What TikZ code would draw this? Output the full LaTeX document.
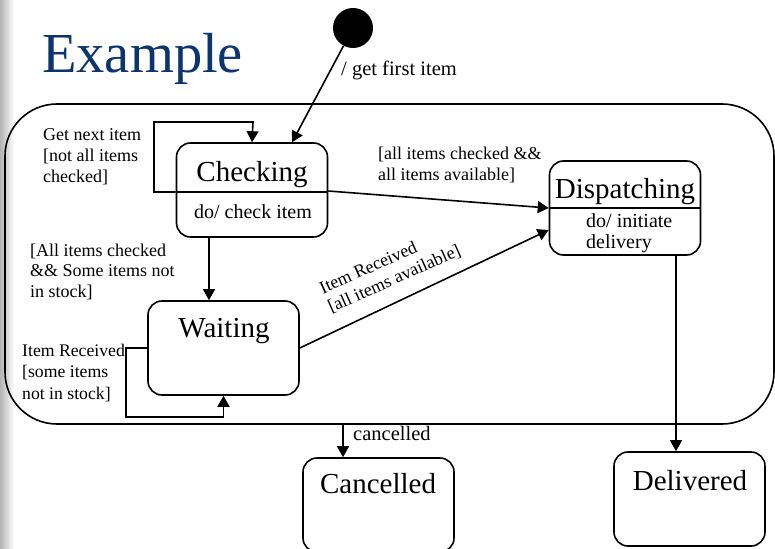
\documentclass[tikz,border=0pt]{standalone}
\usepackage{fontspec}
\setmainfont{Liberation Serif}
\usetikzlibrary{arrows.meta}

\definecolor{titleblue}{RGB}{12,52,110}

\tikzset{
  state/.style={draw, line width=1.6pt, rounded corners=14pt, minimum width=151pt, minimum height=94pt, inner sep=0pt},
  statename/.style={font=\fontsize{29}{32}\selectfont, inner sep=0pt},
  activity/.style={font=\fontsize{20}{21}\selectfont, inner sep=0pt, align=left},
  guard/.style={font=\fontsize{18}{20.5}\selectfont, inner sep=0pt, align=left},
  event/.style={font=\fontsize{20.5}{22}\selectfont, inner sep=0pt},
  trans/.style={line width=1.6pt, -{Triangle[length=11pt,width=12pt]}},
}

\begin{document}
\begin{tikzpicture}[x=1pt, y=-1pt]
  \useasboundingbox (0,0) rectangle (775,548);
  \clip (0,0) rectangle (775,548);

  % edge of the slide
  \shade[left color=gray!60, right color=white] (0,0) rectangle (14,548);

  \node (title) [anchor=base west, inner sep=0pt, text=titleblue, font=\fontsize{56.5}{60}\selectfont] at (42,73) {Example};

  % composite state round the order handling
  \node (comp) [draw, line width=1.6pt, rounded corners=52pt, minimum width=769pt, minimum height=320pt] at (389.5,264) {};

  % states
  \node (init) [circle, fill, minimum size=40pt, inner sep=0pt] at (353,28) {};
  \node (chk) [state] at (252,190) {};
  \node (dsp) [state] at (625,208) {};
  \node (wai) [state] at (223.5,348) {};
  \node (can) [state] at (378.5,505) {};
  \node (dlv) [state] at (689.5,499) {};

  \node (chkname) [statename, anchor=base] at (252,181) {Checking};
  \node (chkdo) [activity, anchor=base] at (253,218) {do/ check item};
  \draw [line width=1.6pt] (chk.west |- 0,192) -- (chk.east |- 0,192);

  \node (dspname) [statename, anchor=base] at (625,198) {Dispatching};
  \node (dspdo) [activity, anchor=base west] at (586,248) {do/ initiate\\delivery};
  \draw [line width=1.6pt] (dsp.west) -- (dsp.east);

  \node (wainame) [statename, anchor=base] at (224,337) {Waiting};
  \node (canname) [statename, anchor=base] at (378,493) {Cancelled};
  \node (dlvname) [statename, anchor=base] at (690,490) {Delivered};

  % transitions
  \draw [trans] (init) -- (chk.50);
  \draw [trans] (chk.west |- 0,192) -- (154,192) |- (253,122) -- (chk.north);
  \draw [trans] (chk.east |- 0,191) -- (dsp.west);
  \draw [trans] (chk.south -| 209,0) -- (wai.north -| 209,0);
  \draw [trans] (wai.west) -| (126,417) -| (wai.south);
  \draw [trans] (wai.east) -- (dsp.west |- 0,230);
  \draw [trans] (comp.south -| 343,0) -- (can.north -| 343,0);
  \draw [trans] (dsp.south -| 676,0) -- (dlv.north -| 676,0);

  % transition labels (base = last line)
  \node (firstlbl) [event, anchor=base west] at (341,76) {/ get first item};
  \node (nextlbl) [guard, anchor=base west] at (43,182) {Get next item\\{[}not all items\\checked]};
  \node (stocklbl) [guard, anchor=base west] at (30,297) {[All items checked\\\&\& Some items not\\in stock]};
  \node (availlbl) [guard, anchor=base west] at (378,180) {[all items checked \&\&\\all items available]};
  \node (somelbl) [guard, font=\fontsize{17.7}{21.5}\selectfont, anchor=base west] at (22,399) {Item Received\\{[}some items\\not in stock]};
  \node (rcvlbl) [guard, anchor=base west, rotate=24] at (331,313) {Item Received\\{[}all items available]};
  \node (canlbl) [event, anchor=base west] at (353,440) {cancelled};
\end{tikzpicture}
\end{document}
